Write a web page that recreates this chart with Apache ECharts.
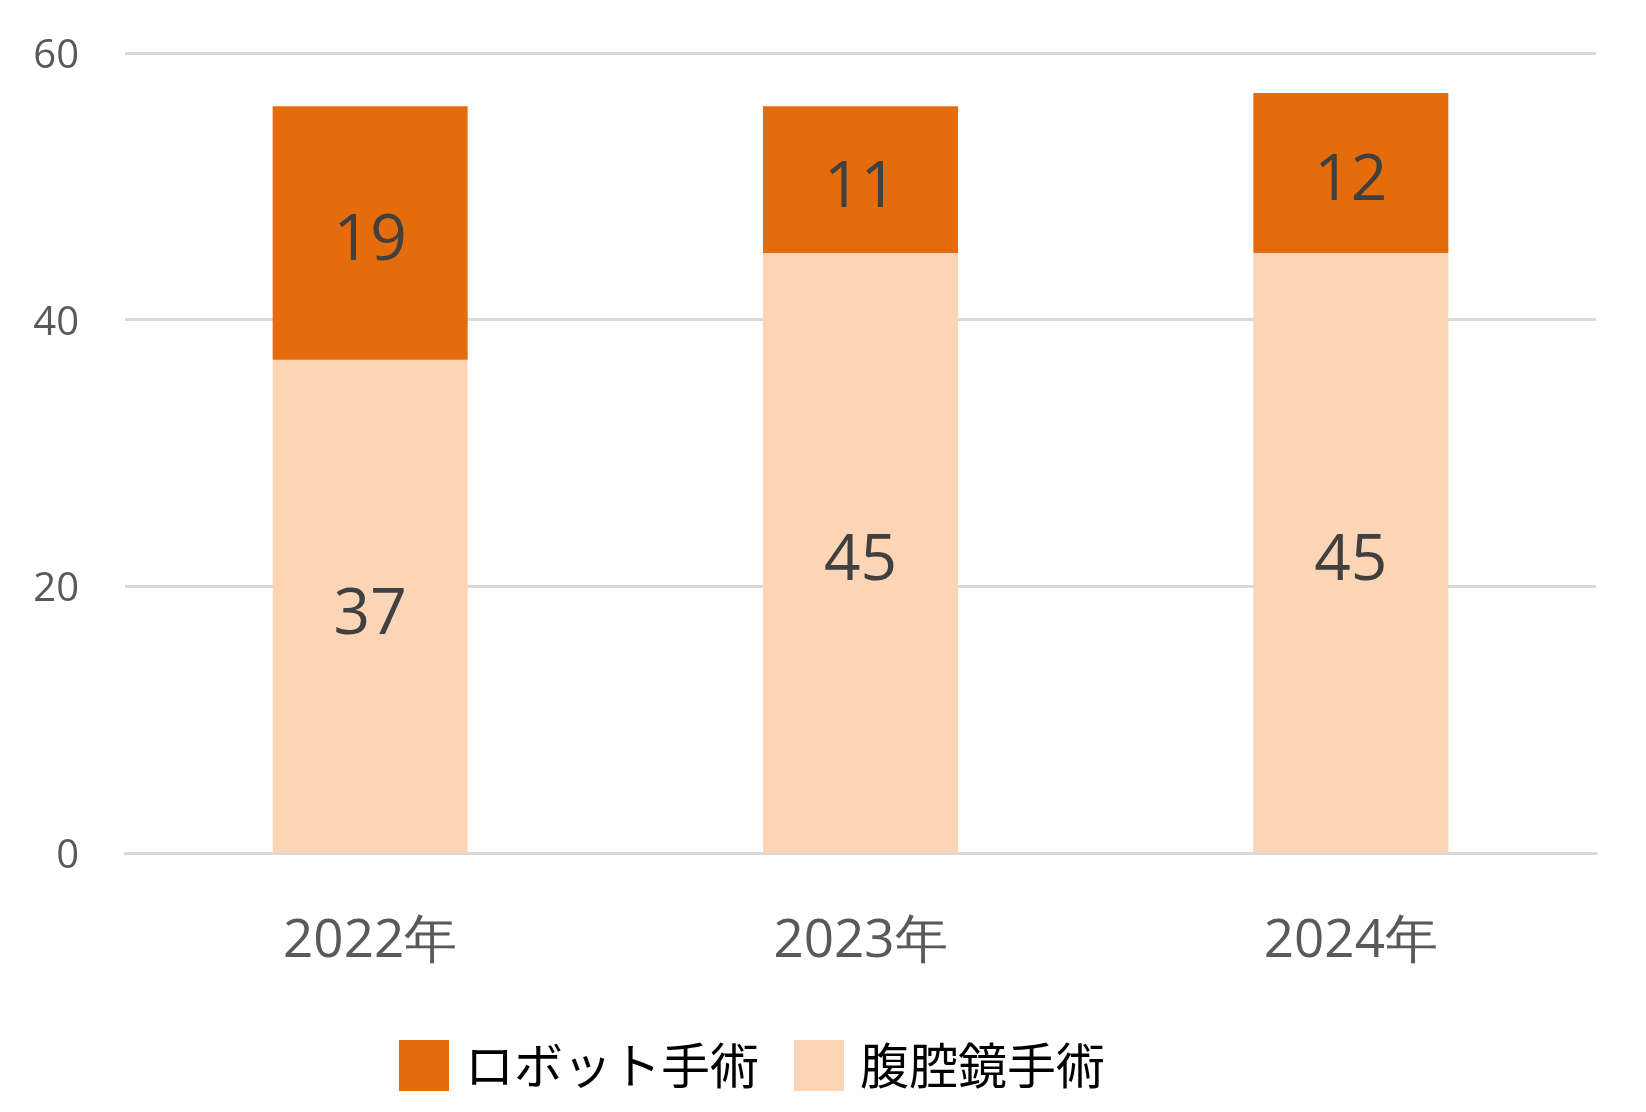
<!DOCTYPE html>
<html><head><meta charset="utf-8">
<script src="https://cdn.jsdelivr.net/npm/echarts@6/dist/echarts.min.js"></script>
<style>html,body{margin:0;padding:0;background:#fff}#c{width:1646px;height:1112px}</style>
</head><body><div id="c"></div>
<script>
const categories = ['2022年', '2023年', '2024年'];
const robotValues = [19, 11, 12];
const laparoValues = [37, 45, 45];
const seriesNames = ['ロボット手術', '腹腔鏡手術'];
const yTicks = [0, 20, 40, 60];

const chart = echarts.init(document.getElementById('c'));
const labelStyle = {show: true, position: 'inside', offset: [0, 9], color: '#404040', fontSize: 64, fontFamily: 'Open Sans'};
chart.setOption({
  animation: false,
  grid: {left: 125, right: 50, top: 53, bottom: 259},
  legend: {
    data: [seriesNames[0], seriesNames[1]],
    top: 1035, left: 394,
    itemWidth: 50, itemHeight: 51, itemGap: 35,
    icon: 'rect',
    textStyle: {fontSize: 49, color: '#000', fontFamily: 'Noto Sans CJK JP', padding: [0, 0, 0, 11]}
  },
  xAxis: {
    type: 'category', data: categories,
    axisLine: {lineStyle: {color: '#d9d9d9', width: 3}},
    axisTick: {show: false},
    axisLabel: {fontSize: 53, color: '#595959', margin: 62, fontFamily: 'Open Sans'}
  },
  yAxis: {
    type: 'value', min: yTicks[0], max: yTicks[yTicks.length - 1], interval: 20,
    axisLine: {show: false}, axisTick: {show: false},
    splitLine: {lineStyle: {color: '#d9d9d9', width: 3}},
    axisLabel: {
      margin: 46, formatter: '{a|{value}}',
      rich: {a: {fontSize: 40, color: '#595959', fontFamily: 'Open Sans', lineHeight: 40, padding: [7, 0, 0, 0]}}
    }
  },
  series: [
    {name: seriesNames[1], type: 'bar', stack: 's', data: laparoValues, barWidth: 195,
     itemStyle: {color: '#fbd5b5'}, label: labelStyle},
    {name: seriesNames[0], type: 'bar', stack: 's', data: robotValues, barWidth: 195,
     itemStyle: {color: '#e46c0a'}, label: labelStyle}
  ]
});
</script></body></html>
